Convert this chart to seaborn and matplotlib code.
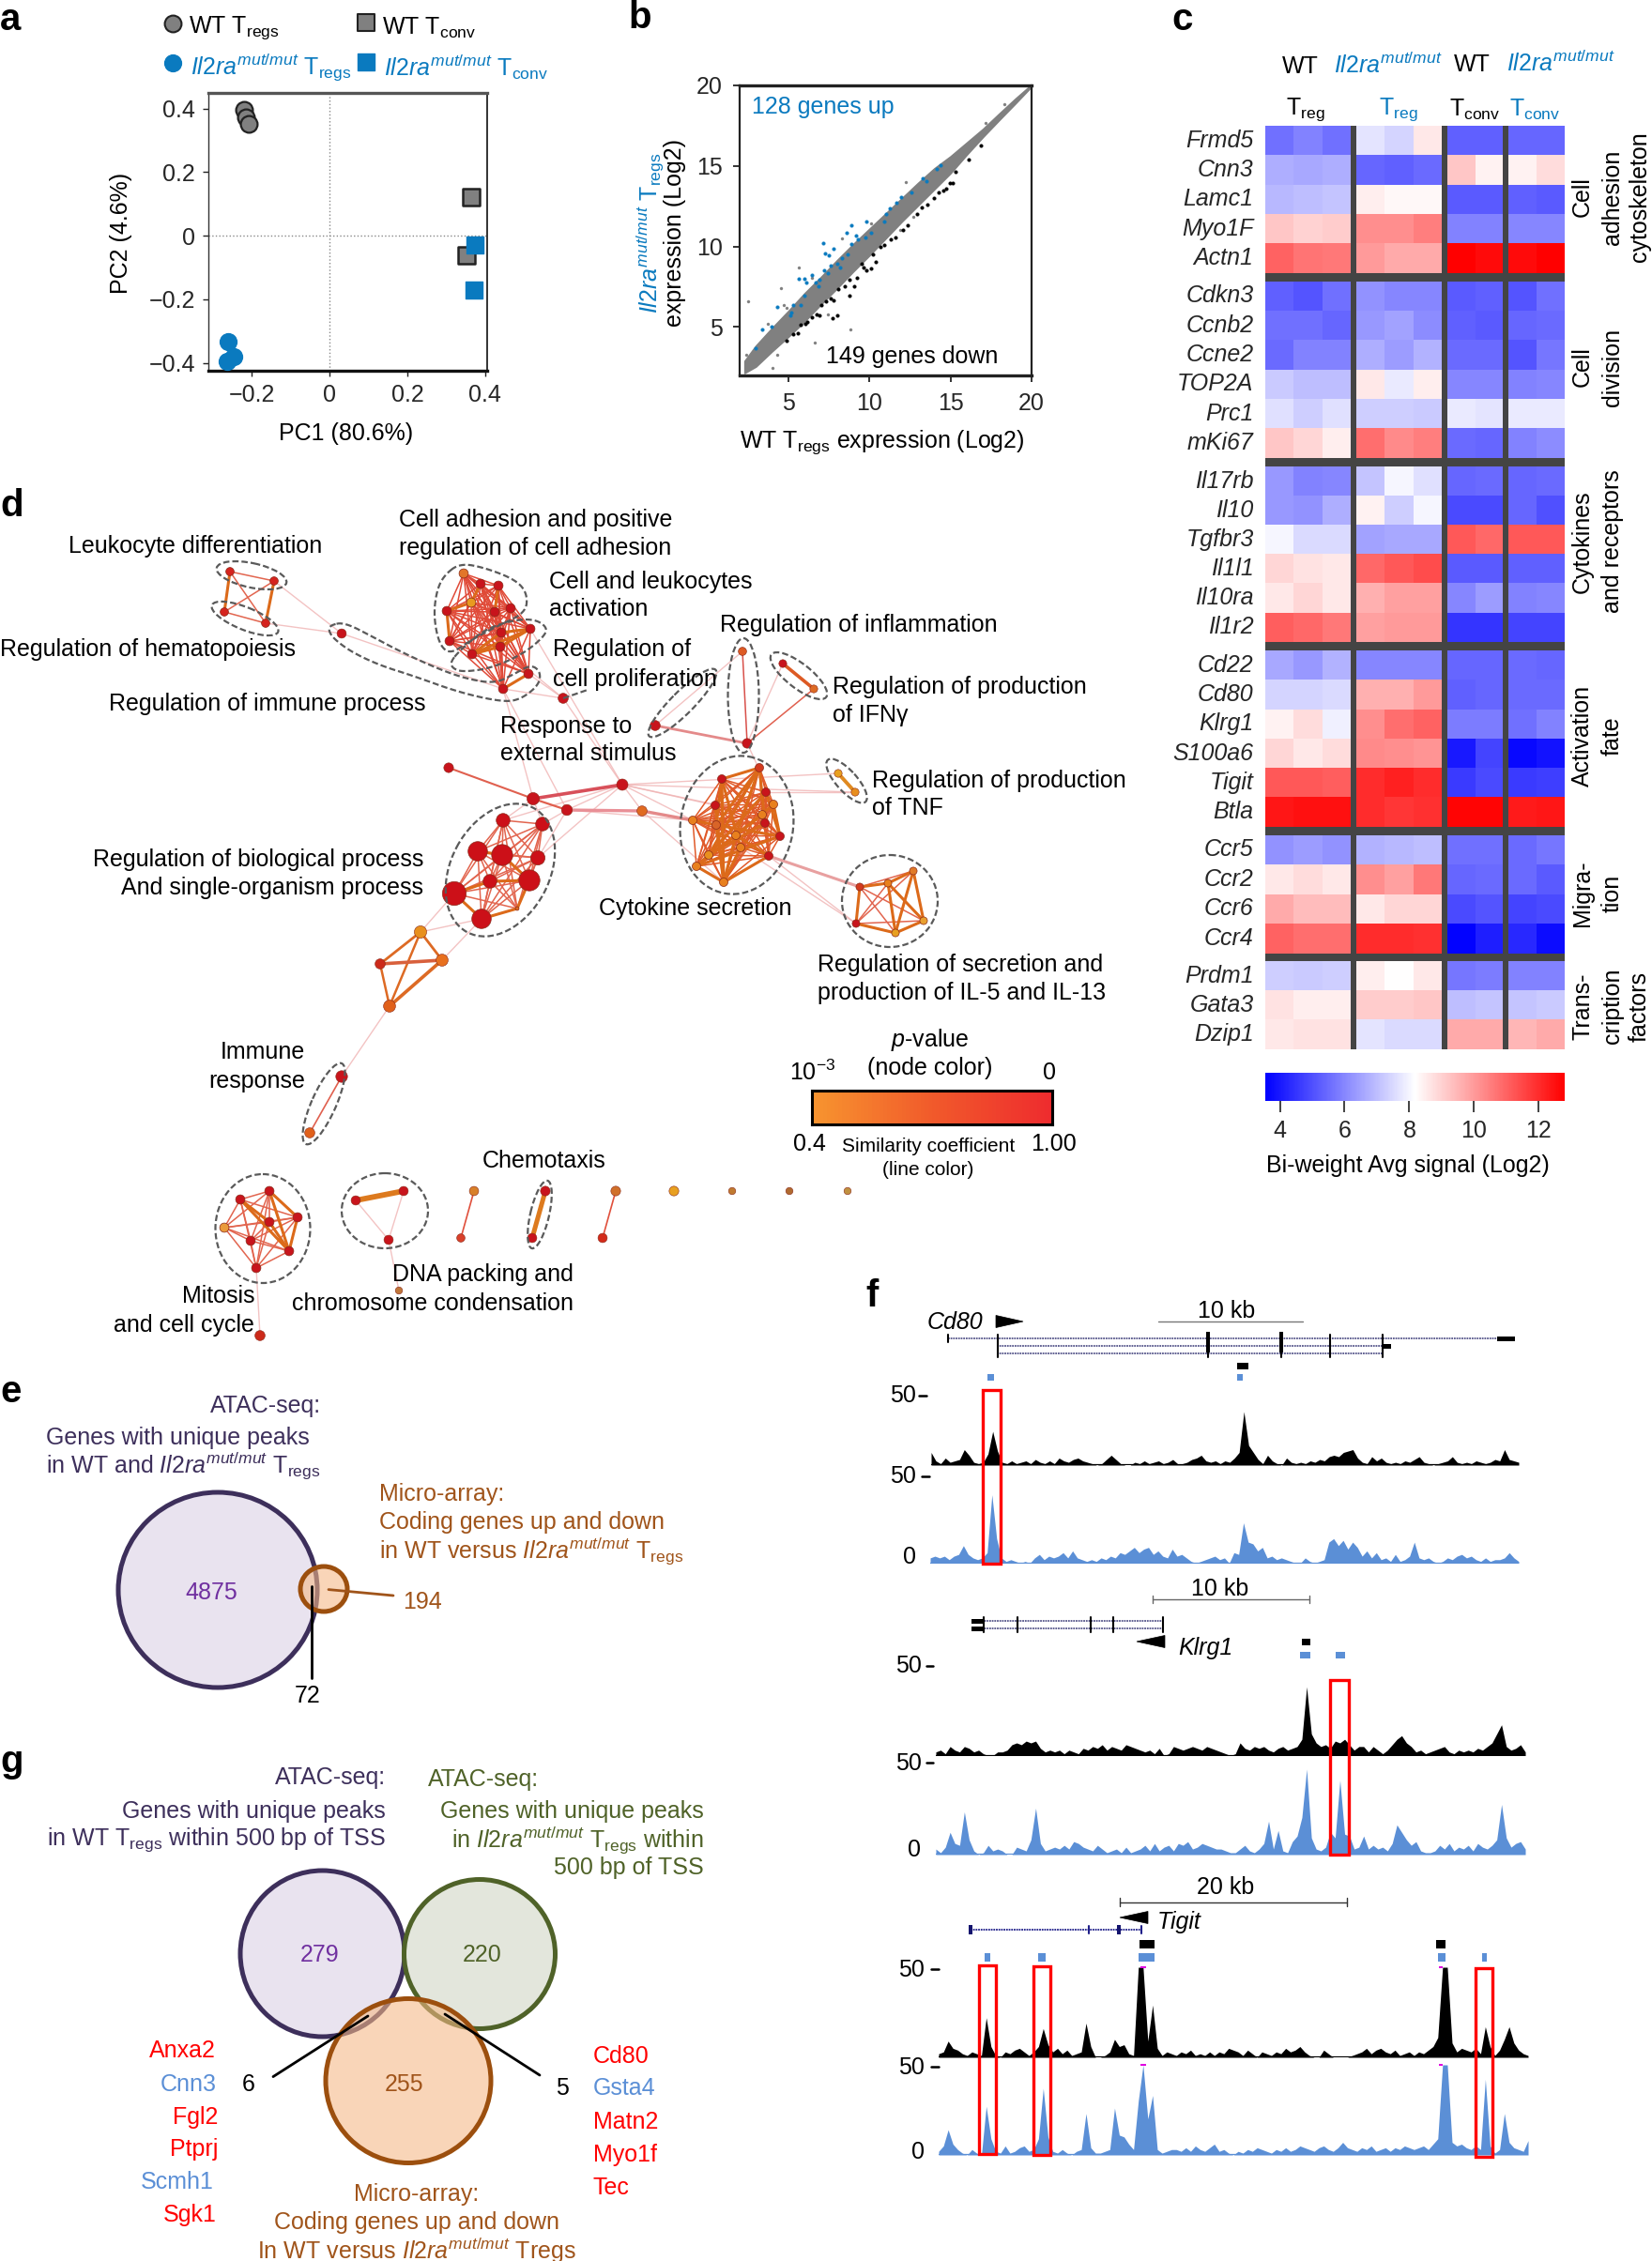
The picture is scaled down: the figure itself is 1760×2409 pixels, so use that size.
import itertools
import numpy as np
import pandas as pd
import seaborn as sns
import matplotlib
matplotlib.use("Agg")
import matplotlib.pyplot as plt
from matplotlib.patches import Ellipse, Rectangle, Polygon
from matplotlib.colors import LinearSegmentedColormap, Normalize
from matplotlib.cm import ScalarMappable

sns.set_theme(style="white")
plt.rcParams['font.family'] = ['Liberation Sans', 'DejaVu Sans']
plt.rcParams['mathtext.fontset'] = 'custom'
plt.rcParams['mathtext.rm'] = 'Liberation Sans'
plt.rcParams['mathtext.it'] = 'Liberation Sans:italic'
plt.rcParams['mathtext.bf'] = 'Liberation Sans:bold'
plt.rcParams['mathtext.default'] = 'regular'

W, H = 1760, 2409
FS = 18
BLUE = '#0a7abf'
PURPLE = '#3d2f5b'
BROWN = '#a0541a'
GREEN = '#4f6228'
TRACK_BLUE = '#5b8fd6'
MUT = r'\mathit{Il2ra}^{\mathit{mut/mut}}'

# ---------- panel a
pca_wt_treg_x = [-0.219, -0.215, -0.208]
pca_wt_treg_y = [0.396, 0.372, 0.353]
pca_mut_treg_x = [-0.260, -0.245, -0.263]
pca_mut_treg_y = [-0.334, -0.380, -0.395]
pca_wt_tconv_x = [0.364, 0.352]
pca_wt_tconv_y = [0.120, -0.062]
pca_mut_tconv_x = [0.373, 0.371]
pca_mut_tconv_y = [-0.030, -0.171]

# ---------- panel b
band_x = [2.3, 3, 4, 5, 6, 7, 8, 9, 10, 11, 12, 13, 14, 15, 16, 17, 18, 19, 19.9]
band_high = [2.9, 3.85, 4.95, 6.0, 7.1, 8.1, 9.15, 10.15, 11.1, 12.05, 13.0, 13.95, 14.85, 15.6, 16.45, 17.3, 18.25, 19.18, 19.97]
band_low = [2.15, 2.55, 3.5, 4.4, 5.35, 6.4, 7.4, 8.45, 9.45, 10.5, 11.55, 12.55, 13.55, 14.55, 15.7, 16.8, 17.85, 18.88, 19.83]
up_x = [3.37, 3.95, 4.30, 5.20, 5.30, 5.78, 5.98, 5.65, 5.98, 6.46, 6.11, 6.69, 6.94, 7.23, 7.62, 8.00, 8.29, 7.29, 7.52, 7.81, 7.17, 8.87, 9.16, 9.32, 9.78, 10.13, 8.58, 8.87, 9.80, 10.90, 11.00, 11.25, 11.67, 11.96, 12.58, 13.31, 13.51, 14.18, 14.41, 2.98, 5.11, 6.85, 7.42, 8.20, 8.68]
up_y = [4.83, 5.03, 6.23, 5.90, 6.39, 6.39, 6.97, 8.00, 8.00, 8.23, 7.75, 7.75, 7.94, 8.52, 8.82, 8.91, 9.30, 9.59, 9.46, 9.88, 10.21, 10.17, 10.66, 10.47, 10.56, 10.85, 10.85, 11.34, 11.53, 11.53, 12.02, 12.35, 12.70, 13.09, 13.34, 14.25, 14.06, 14.83, 15.03, 3.67, 5.71, 7.55, 8.33, 8.72, 9.50]
down_x = [4.92, 5.30, 5.59, 5.78, 6.17, 6.46, 6.75, 6.94, 7.04, 7.33, 7.62, 7.81, 8.10, 8.49, 8.78, 9.07, 9.26, 8.00, 7.71, 8.78, 9.84, 10.13, 10.42, 10.22, 9.55, 9.64, 10.71, 10.90, 11.29, 11.58, 12.06, 12.35, 12.93, 13.22, 13.60, 13.99, 14.28, 14.57, 14.76, 14.95, 15.15, 15.34, 16.11, 16.88, 6.07]
down_y = [4.16, 4.54, 4.64, 5.13, 5.32, 5.61, 5.80, 5.71, 6.39, 6.58, 6.78, 6.68, 7.36, 7.55, 7.94, 7.55, 8.04, 5.71, 5.57, 6.97, 8.52, 8.62, 9.07, 9.50, 8.91, 8.72, 9.98, 10.08, 10.47, 10.56, 11.05, 11.34, 12.02, 12.41, 12.60, 12.99, 13.38, 13.48, 13.57, 13.96, 13.96, 14.64, 15.42, 16.29, 5.22]
other_x = [2.50, 4.57, 5.63, 8.81, 4.05, 2.41, 8.29, 3.76, 4.72, 6.65, 12.25, 17.17, 18.33, 15.73, 10.13, 12.73, 11.87, 7.42, 4.34, 6.46, 4.92]
other_y = [6.62, 7.40, 8.68, 4.84, 2.47, 3.28, 10.52, 5.22, 6.39, 4.06, 14.00, 17.69, 18.82, 16.10, 11.44, 11.82, 11.05, 5.81, 3.28, 8.04, 6.19]

# ---------- panel c
gene_blocks = [
    ['Frmd5', 'Cnn3', 'Lamc1', 'Myo1F', 'Actn1'],
    ['Cdkn3', 'Ccnb2', 'Ccne2', 'TOP2A', 'Prc1', 'mKi67'],
    ['Il17rb', 'Il10', 'Tgfbr3', 'Il1l1', 'Il10ra', 'Il1r2'],
    ['Cd22', 'Cd80', 'Klrg1', 'S100a6', 'Tigit', 'Btla'],
    ['Ccr5', 'Ccr2', 'Ccr6', 'Ccr4'],
    ['Prdm1', 'Gata3', 'Dzip1'],
]
expression = [
    [5.6, 5.9, 5.6, 7.7, 7.4, 8.6, 5.3, 5.3, 5.4, 5.4],
    [6.7, 6.6, 6.7, 5.4, 5.3, 5.5, 9.2, 8.4, 8.4, 8.8],
    [6.9, 7.0, 7.1, 8.5, 8.3, 8.3, 5.2, 5.2, 5.3, 5.2],
    [9.2, 9.0, 9.1, 10.2, 10.2, 10.5, 5.9, 5.9, 6.0, 6.0],
    [11.0, 10.7, 10.6, 10.0, 9.7, 9.7, 12.8, 12.6, 12.6, 12.8],
    [5.3, 5.1, 5.6, 6.2, 6.0, 6.0, 5.2, 5.3, 5.1, 5.6],
    [5.6, 5.6, 5.4, 6.3, 6.5, 6.1, 5.3, 5.2, 5.4, 5.5],
    [5.5, 5.9, 5.9, 6.7, 6.4, 6.8, 5.5, 5.5, 5.1, 5.7],
    [7.2, 7.0, 7.0, 8.6, 7.8, 8.5, 6.0, 6.0, 5.9, 6.0],
    [7.6, 7.3, 7.6, 7.3, 7.3, 7.2, 7.8, 7.7, 7.8, 7.8],
    [9.2, 8.9, 8.5, 10.8, 10.3, 10.5, 5.5, 5.4, 5.9, 6.1],
    [6.3, 5.9, 6.0, 7.1, 8.0, 7.6, 5.4, 5.5, 5.4, 5.5],
    [6.3, 6.2, 6.7, 8.4, 7.3, 8.0, 4.9, 4.9, 5.4, 5.0],
    [8.0, 7.5, 7.5, 6.5, 6.6, 6.6, 11.2, 10.9, 11.2, 11.2],
    [8.9, 8.7, 8.6, 10.9, 11.2, 11.4, 5.2, 5.2, 5.3, 5.3],
    [8.6, 8.9, 8.6, 9.6, 9.9, 9.9, 6.0, 6.4, 5.9, 6.0],
    [11.1, 10.9, 10.6, 9.9, 10.0, 10.0, 4.5, 4.5, 4.8, 4.8],
    [6.6, 6.3, 6.8, 6.0, 6.0, 6.0, 5.4, 5.4, 5.5, 5.4],
    [7.4, 7.4, 7.5, 9.6, 9.6, 10.0, 5.3, 5.4, 5.5, 5.5],
    [8.4, 8.8, 7.9, 10.2, 10.8, 11.0, 5.8, 5.8, 5.6, 5.9],
    [8.9, 8.6, 8.8, 10.3, 10.2, 10.1, 4.0, 4.8, 3.7, 3.9],
    [11.2, 11.2, 11.1, 12.0, 12.2, 12.0, 4.6, 4.9, 4.6, 4.7],
    [12.4, 12.5, 12.5, 12.0, 11.8, 11.9, 12.7, 12.7, 12.3, 12.4],
    [6.2, 6.4, 6.2, 6.8, 6.9, 7.0, 5.6, 5.6, 5.5, 5.7],
    [8.6, 8.8, 8.6, 10.2, 9.9, 10.6, 5.4, 5.5, 5.5, 5.2],
    [9.7, 9.4, 9.4, 8.6, 8.9, 8.9, 4.9, 5.1, 4.8, 4.9],
    [11.0, 10.8, 10.8, 12.0, 12.0, 11.9, 3.6, 4.1, 4.3, 3.8],
    [7.3, 7.2, 7.3, 8.5, 8.2, 8.6, 5.7, 5.8, 5.9, 5.9],
    [8.7, 8.5, 8.5, 9.1, 9.1, 9.2, 7.0, 7.1, 7.1, 7.2],
    [8.6, 8.7, 8.7, 7.7, 7.5, 7.5, 9.7, 9.7, 9.5, 9.7],
]
col_groups = [(0, 3), (3, 6), (6, 8), (8, 10)]
cbar_ticks = [4, 6, 8, 10, 12]

# ---------- panel d network: clusters of nodes (x, y on the panel's own scale)
clusters = {
    'leuk': dict(x=[245, 292, 239, 283], y=[609, 619, 652, 664], thick=[(0, 2), (1, 3)]),
    'adhesion': dict(x=[494, 512, 531, 502, 476, 527, 544, 565, 534, 479, 503, 533, 563, 536],
                     y=[611, 622, 624, 642, 651, 652, 648, 670, 674, 683, 697, 689, 718, 734],
                     thick=[(4, 9), (10, 7), (10, 8), (10, 11), (11, 7), (8, 7), (3, 4), (2, 5), (1, 3), (12, 13)]),
    'cytokine': dict(x=[809, 769, 816, 824, 762, 812, 815, 738, 763, 831, 784, 789, 819, 755, 742, 771],
                     y=[818, 830, 844, 857, 858, 868, 877, 874, 879, 891, 890, 903, 912, 911, 923, 940],
                     thick=[(0, 1), (0, 8), (0, 10), (0, 13), (1, 8), (1, 11), (1, 15), (4, 15), (8, 15), (10, 15), (11, 15),
                            (13, 14), (14, 15), (12, 15), (2, 9), (3, 9), (8, 9), (10, 12), (7, 8), (5, 14), (6, 13), (2, 13), (0, 6), (3, 10), (9, 14)]),
    'il5': dict(x=[916, 946, 973, 912, 984, 954], y=[945, 941, 928, 984, 981, 994],
                thick=[(0, 3), (1, 2), (2, 4), (1, 4), (1, 5), (2, 5), (4, 5), (3, 5), (0, 1)]),
    'bio': dict(x=[536, 578, 509, 535, 573, 522, 564, 484, 551, 513],
                y=[874, 878, 907, 911, 914, 939, 938, 952, 968, 979],
                thick=[(2, 3), (3, 6), (6, 8), (7, 9), (7, 5), (8, 9), (5, 6)]),
    'mitosis': dict(x=[287, 256, 317, 287, 239, 267, 308, 273], y=[1269, 1278, 1297, 1302, 1308, 1322, 1333, 1351],
                    thick=[(0, 2), (1, 6), (0, 6), (2, 6), (1, 3), (3, 6)]),
}
cluster_node_color = {
    'leuk': ['#d5231e'] * 4,
    'adhesion': ['#e2762a', '#c8141c', '#c8141c', '#e89a20', '#c8141c', '#c8141c', '#c8141c', '#c8141c', '#c8141c', '#c8141c', '#c8141c', '#c8141c', '#c8141c', '#c8141c'],
    'cytokine': ['#d33a1e', '#c8141c', '#c8141c', '#e8801e', '#c8141c', '#e8801e', '#c8141c', '#e8801e', '#d86428', '#c8141c', '#e8801e', '#e8801e', '#c8141c', '#e8901e', '#e8801e', '#e8801e'],
    'il5': ['#d33a1e', '#e8801e', '#e07a28', '#c8141c', '#e8a030', '#e8a020'],
    'bio': ['#cc1018'] * 8 + ['#e06a20', '#cc1018'],
    'mitosis': ['#c8141c', '#c8141c', '#c8141c', '#c8141c', '#ea9a3a', '#c8141c', '#c8141c', '#c8141c'],
}
cluster_node_size = {
    'leuk': 40, 'adhesion': 50, 'cytokine': 42, 'il5': 34, 'mitosis': 50,
    'bio': [110, 110, 220, 260, 120, 110, 260, 330, 8, 220],
}
link_strong = [  # red or orange links (x1, y1, x2, y2, colour, width)
    (478, 818, 568, 851, '#e0604f', 1.5), (568, 851, 663, 836, '#d8505a', 2.6), (568, 851, 604, 863, '#e0604f', 1.6),
    (604, 863, 684, 864, '#e98f96', 2.4), (791, 694, 796, 792, '#d8504a', 1.1), (867, 734, 796, 792, '#e0604f', 1.1),
    (698, 773, 796, 792, '#e48a8a', 2.0), (834, 707, 867, 734, '#dd5a24', 2.6), (893, 824, 911, 844, '#e08a20', 2.8),
    (364, 1147, 330, 1207, '#e0604f', 1.2), (379, 1279, 430, 1269, '#dd7a1e', 4.2), (505, 1269, 491, 1319, '#e0503c', 1.2),
    (581, 1269, 567, 1319, '#dd7a1e', 3.6), (656, 1269, 642, 1319, '#e0503c', 1.2), (448, 993, 405, 1027, '#dd6a24', 2.0),
    (448, 993, 471, 1023, '#dd6a24', 2.0), (448, 993, 415, 1072, '#dd6a24', 1.8), (405, 1027, 471, 1023, '#d8603c', 2.6),
    (405, 1027, 415, 1072, '#dd6a24', 1.8), (471, 1023, 415, 1072, '#dd6a24', 2.6), (684, 864, 738, 874, '#e48a8a', 2.4),
    (819, 912, 916, 945, '#e8a0a0', 2.2),
]
link_faint = [  # pale links between clusters
    (292, 619, 364, 675), (283, 664, 364, 675), (364, 675, 536, 734), (533, 689, 600, 744), (565, 670, 663, 836),
    (536, 734, 568, 851), (600, 744, 663, 836), (563, 718, 600, 744), (568, 851, 536, 874), (568, 851, 578, 878),
    (604, 863, 578, 878), (663, 836, 573, 914), (604, 863, 573, 914), (604, 863, 663, 836), (663, 836, 738, 874),
    (663, 836, 762, 858), (663, 836, 812, 868), (604, 863, 738, 874), (663, 836, 684, 864), (684, 864, 771, 940),
    (663, 836, 536, 874), (796, 792, 808, 818), (698, 773, 791, 694), (834, 707, 796, 792), (819, 912, 912, 984),
    (789, 903, 912, 984), (663, 836, 893, 824), (663, 836, 911, 844), (816, 844, 911, 844), (513, 979, 448, 993),
    (513, 979, 471, 1023), (484, 952, 448, 993), (415, 1072, 364, 1147), (273, 1351, 277, 1423), (414, 1321, 425, 1375),
    (379, 1279, 414, 1321), (430, 1269, 414, 1321), (536, 734, 600, 744), (604, 863, 536, 734),
]
free_x = [364, 600, 791, 834, 867, 698, 796, 478, 663, 568, 604, 684, 448, 405, 471, 415, 893, 911, 364, 330, 379, 430, 414, 505, 491, 581, 567, 656, 642, 718, 780, 841, 903, 425, 277]
free_y = [675, 744, 694, 707, 734, 773, 792, 818, 836, 851, 863, 864, 993, 1027, 1023, 1072, 824, 844, 1147, 1207, 1279, 1269, 1321, 1269, 1319, 1269, 1319, 1269, 1319, 1269, 1269, 1269, 1269, 1375, 1423]
free_s = [50, 60, 40, 36, 36, 60, 55, 55, 75, 90, 70, 60, 90, 60, 85, 85, 36, 36, 80, 60, 50, 50, 50, 50, 40, 55, 50, 55, 50, 55, 30, 30, 30, 30, 60]
free_c = ['#c8141c', '#c8141c', '#dd5a24', '#c8141c', '#dd6a24', '#c8141c', '#c8141c', '#c8141c', '#c8141c', '#c8141c', '#c8141c', '#e06a20',
          '#e8901e', '#cc2a1a', '#e8701e', '#e0601a', '#e8a020', '#e88e1e', '#c8141c', '#e0601a', '#c8141c', '#c8141c', '#c8141c',
          '#d8802a', '#d9402a', '#c8141c', '#c8141c', '#d0702a', '#d32a1a', '#e8a020', '#c07a30', '#b06a30', '#c09040', '#c0763a', '#cc2a1a']
dash_ellipses = [  # centre x, centre y, long side, short side, tilt
    (268, 613, 76, 26, 12), (261, 659, 76, 24, 22), (792, 741, 33, 122, 0), (727, 749, 100, 24, -45),
    (851, 720, 74, 26, 38), (785, 879, 120, 148, 10), (902, 832, 60, 22, 48), (533, 927, 150, 105, -62),
    (948, 960, 102, 98, 0), (345, 1176, 94, 26, -66), (280, 1309, 101, 116, 0), (410, 1290, 92, 80, 0), (575, 1294, 74, 20, -77),
]
dash_blobs = [
    [(473, 613), (490, 600), (517, 605), (550, 618), (562, 633), (560, 653), (530, 667), (500, 683), (480, 697), (468, 687), (462, 657), (465, 630)],
    [(480, 705), (490, 693), (513, 673), (540, 662), (568, 659), (583, 668), (580, 678), (557, 697), (523, 712), (493, 716), (482, 712)],
    [(352, 666), (367, 663), (398, 679), (428, 695), (470, 714), (500, 724), (528, 728), (548, 718), (566, 708), (576, 716), (574, 730), (555, 745),
     (536, 748), (490, 738), (440, 720), (405, 709), (375, 695), (356, 681), (350, 672)],
]
d_labels = [
    (425, 552, 'Cell adhesion and positive', 'left'), (425, 582, 'regulation of cell adhesion', 'left'),
    (73, 581, 'Leukocyte differentiation', 'left'), (585, 618, 'Cell and leukocytes', 'left'), (585, 648, 'activation', 'left'),
    (767, 665, 'Regulation of inflammation', 'left'), (0, 690, 'Regulation of hematopoiesis', 'left'),
    (589, 691, 'Regulation of', 'left'), (589, 722, 'cell proliferation', 'left'),
    (887, 731, 'Regulation of production', 'left'), (887, 761, 'of IFNγ', 'left'),
    (116, 748, 'Regulation of immune process', 'left'), (533, 772, 'Response to', 'left'), (533, 802, 'external stimulus', 'left'),
    (929, 831, 'Regulation of production', 'left'), (929, 860, 'of TNF', 'left'),
    (451, 915, 'Regulation of biological process', 'right'), (451, 945, 'And single-organism process', 'right'),
    (638, 966, 'Cytokine secretion', 'left'), (871, 1027, 'Regulation of secretion and', 'left'),
    (871, 1057, 'production of IL-5 and IL-13', 'left'), (325, 1120, 'Immune', 'right'), (325, 1151, 'response', 'right'),
    (580, 1235, 'Chemotaxis', 'center'), (271, 1380, 'Mitosis', 'right'), (271, 1411, 'and cell cycle', 'right'),
    (611, 1357, 'DNA packing and', 'right'), (611, 1387, 'chromosome condensation', 'right'),
]

# ---------- panel f tracks, one value per genome bin
cd80_black = [9, 3, 1, 5, 2, 3, 4, 11, 7, 2, 1, 2, 8, 24, 10, 2, 1, 3, 1, 2, 3, 1, 4, 2, 1,
              3, 1, 5, 3, 2, 4, 5, 3, 2, 1, 0, 1, 4, 7, 4, 1, 0, 0, 2, 1, 3, 1, 2, 3, 1,
              2, 4, 1, 1, 2, 4, 5, 7, 3, 2, 3, 1, 3, 2, 5, 9, 38, 14, 9, 4, 1, 7, 3, 1, 0,
              5, 2, 1, 2, 1, 3, 2, 4, 3, 6, 7, 6, 9, 10, 11, 5, 2, 1, 6, 3, 5, 2, 1, 2, 1,
              3, 2, 4, 6, 2, 1, 0, 1, 2, 3, 6, 2, 1, 2, 1, 3, 2, 1, 2, 4, 3, 11, 4, 3, 2]
cd80_blue = [3, 4, 3, 4, 2, 4, 5, 10, 5, 3, 2, 3, 6, 39, 14, 3, 1, 2, 1, 0, 1, 0, 3, 5, 2,
             4, 3, 4, 6, 3, 7, 3, 2, 1, 2, 1, 3, 2, 4, 3, 6, 5, 7, 9, 6, 8, 9, 5, 7, 4,
             3, 8, 4, 5, 3, 1, 0, 1, 2, 3, 4, 2, 3, 0, 6, 5, 23, 12, 11, 7, 9, 3, 4, 2, 3,
             2, 1, 0, 0, 3, 1, 0, 1, 2, 12, 14, 10, 13, 8, 12, 9, 4, 7, 3, 6, 2, 3, 1, 5, 1,
             2, 4, 12, 3, 2, 3, 1, 0, 1, 3, 2, 4, 5, 3, 4, 2, 1, 3, 1, 2, 2, 3, 6, 3, 1]
klrg1_black = [2, 3, 1, 5, 3, 2, 5, 4, 2, 3, 1, 0, 0, 2, 2, 3, 6, 7, 6, 8, 7, 8, 4, 2, 3,
               2, 3, 1, 3, 2, 1, 4, 3, 5, 4, 6, 3, 5, 4, 3, 6, 5, 4, 3, 2, 3, 1, 4, 0, 1,
               5, 4, 3, 4, 5, 4, 3, 5, 4, 3, 2, 1, 0, 1, 7, 4, 3, 5, 4, 5, 3, 2, 4, 5, 3,
               4, 5, 9, 38, 12, 7, 5, 6, 4, 8, 7, 9, 6, 3, 5, 5, 2, 5, 3, 1, 3, 6, 9, 11, 7,
               5, 2, 3, 1, 2, 3, 4, 5, 2, 1, 3, 2, 3, 2, 4, 3, 5, 7, 12, 17, 5, 3, 4, 6, 2]
klrg1_blue = [3, 1, 4, 12, 6, 5, 23, 8, 2, 0, 1, 5, 2, 3, 2, 0, 0, 4, 3, 2, 8, 25, 6, 2, 3,
              4, 3, 5, 3, 7, 6, 4, 3, 2, 5, 3, 1, 2, 3, 1, 4, 1, 2, 3, 5, 2, 6, 2, 4, 5,
              2, 6, 5, 7, 3, 4, 6, 5, 4, 3, 3, 2, 1, 1, 3, 5, 2, 1, 3, 6, 18, 3, 13, 2, 1,
              7, 10, 20, 46, 9, 3, 2, 4, 12, 9, 40, 11, 10, 3, 4, 10, 3, 5, 3, 4, 2, 6, 16, 12, 8,
              5, 7, 2, 1, 1, 2, 5, 3, 6, 2, 4, 3, 5, 2, 6, 4, 3, 5, 8, 27, 9, 4, 6, 7, 3]
tigit_black = [2, 3, 9, 5, 4, 2, 1, 3, 2, 1, 22, 6, 1, 0, 3, 2, 4, 5, 3, 1, 3, 6, 16, 7, 3,
               5, 2, 4, 1, 2, 3, 19, 6, 0, 0, 1, 3, 10, 6, 7, 2, 1, 50, 50, 9, 29, 5, 1, 3, 2,
               1, 3, 2, 4, 1, 2, 1, 3, 1, 3, 2, 5, 4, 3, 1, 4, 2, 0, 3, 2, 1, 3, 2, 5, 3,
               4, 6, 3, 1, 0, 0, 4, 2, 0, 0, 0, 0, 1, 2, 3, 5, 2, 4, 5, 3, 2, 4, 1, 2, 3,
               1, 3, 2, 4, 6, 11, 50, 50, 8, 3, 5, 4, 3, 5, 2, 17, 6, 1, 4, 10, 17, 8, 4, 2, 1]
tigit_blue = [2, 5, 14, 6, 3, 1, 0, 3, 1, 0, 27, 9, 2, 1, 5, 1, 2, 4, 5, 2, 3, 9, 37, 10, 2,
              1, 3, 1, 0, 2, 3, 23, 4, 1, 1, 2, 3, 26, 11, 10, 6, 3, 30, 50, 20, 33, 3, 1, 2, 3,
              3, 2, 4, 2, 5, 3, 2, 4, 6, 2, 3, 1, 0, 2, 1, 3, 2, 4, 3, 2, 1, 3, 2, 4, 2,
              3, 5, 4, 3, 2, 4, 5, 3, 2, 4, 7, 4, 3, 2, 4, 3, 5, 2, 3, 4, 2, 4, 3, 5, 4,
              3, 4, 5, 3, 6, 9, 50, 50, 7, 5, 6, 4, 3, 5, 3, 42, 5, 1, 3, 23, 7, 4, 3, 2, 8]

fig = plt.figure(figsize=(W / 100, H / 100), dpi=100, facecolor='white')


def px_axes(l, t, r, b, **kw):
    return fig.add_axes([l / W, 1 - b / H, (r - l) / W, (b - t) / H], **kw)


canvas = fig.add_axes([0, 0, 1, 1], zorder=5)
canvas.set_xlim(0, W)
canvas.set_ylim(H, 0)
canvas.axis('off')


def txt(x, y, s, ha='left', color='black', size=FS, rotation=0, **kw):
    dy = 0 if rotation else 1.5
    canvas.text(x, y + dy, s, ha=ha, va='center', color=color, fontsize=size, rotation=rotation, **kw)


for (lx, ly, let) in [(0, 19, 'a'), (669, 18, 'b'), (1248, 19, 'c'), (0, 537, 'd'), (0, 1481, 'e'), (922, 1379, 'f'), (0, 1875, 'g')]:
    txt(lx, ly, let, size=29, fontweight='bold')

# ---------- a
ax = px_axes(222, 99, 519, 395)
common = dict(ax=ax, legend=False, zorder=3)
sns.scatterplot(x=pca_wt_treg_x, y=pca_wt_treg_y, s=165, color='#808080', edgecolor='#222222', linewidth=1.6, marker='o', **common)
sns.scatterplot(x=pca_mut_treg_x, y=pca_mut_treg_y, s=165, color=BLUE, edgecolor=BLUE, marker='o', **common)
sns.scatterplot(x=pca_wt_tconv_x, y=pca_wt_tconv_y, s=165, color='#808080', edgecolor='#222222', linewidth=1.8, marker='s', **common)
sns.scatterplot(x=pca_mut_tconv_x, y=pca_mut_tconv_y, s=165, color=BLUE, edgecolor=BLUE, marker='s', **common)
ax.axhline(0, color='#888888', lw=1, ls=':')
ax.axvline(0, color='#888888', lw=1, ls=':')
ax.set_xlim(-0.311, 0.405)
ax.set_ylim(-0.425, 0.449)
ax.set_xticks([-0.2, 0, 0.2, 0.4], ['−0.2', '0', '0.2', '0.4'])
ax.set_yticks([-0.4, -0.2, 0, 0.2, 0.4], ['−0.4', '−0.2', '0', '0.2', '0.4'])
ax.tick_params(length=4, width=1, labelsize=FS, color='#222222', pad=6, bottom=True, left=True)
for s, lw, c in [('top', 2.4, '#555555'), ('bottom', 2.4, '#111111'), ('left', 1, '#333333'), ('right', 1.4, '#333333')]:
    ax.spines[s].set_linewidth(lw)
    ax.spines[s].set_color(c)
    ax.spines[s].set_visible(True)
txt(369, 460, 'PC1 (80.6%)', ha='center')
txt(129, 248, 'PC2 (4.6%)', ha='center', rotation=90)
canvas.scatter([184], [25], s=165, c='#808080', edgecolors='#222222', linewidths=1.5)
canvas.scatter([184], [67], s=165, c=BLUE, edgecolors=BLUE)
canvas.scatter([390], [24], s=165, c='#808080', marker='s', edgecolors='#222222', linewidths=1.5)
canvas.scatter([390], [66], s=165, c=BLUE, marker='s', edgecolors=BLUE)
txt(201, 28, r'WT T$_{\mathrm{regs}}$')
txt(407, 28, r'WT T$_{\mathrm{conv}}$')
txt(203, 70, '$' + MUT + r'\ \mathrm{T}_{\mathrm{regs}}$', color=BLUE)
txt(409, 70, '$' + MUT + r'\ \mathrm{T}_{\mathrm{conv}}$', color=BLUE)

# ---------- b
ax = px_axes(788, 91, 1099, 400)
ax.fill_between(band_x, band_low, band_high, color='#808080', lw=1.2, zorder=2)
sns.scatterplot(x=up_x, y=up_y, s=7, color=BLUE, edgecolor=BLUE, ax=ax, legend=False, zorder=3)
sns.scatterplot(x=down_x, y=down_y, s=7, color='black', edgecolor='black', ax=ax, legend=False, zorder=3)
sns.scatterplot(x=other_x, y=other_y, s=5, color='#808080', edgecolor='#808080', ax=ax, legend=False, zorder=1)
ax.set_xlim(2, 20)
ax.set_ylim(2, 20)
ax.set_xticks([5, 10, 15, 20])
ax.set_yticks([5, 10, 15, 20])
ax.tick_params(length=5, width=1.2, labelsize=FS, color='#111111', pad=8, bottom=True, left=True)
for s in ax.spines.values():
    s.set_visible(True)
    s.set_linewidth(1.6)
    s.set_color('#222222')
ax.spines['top'].set_linewidth(2.4)
ax.spines['bottom'].set_linewidth(2.4)
txt(801, 112, '128 genes up', color=BLUE)
txt(880, 378, '149 genes down')
txt(940, 470, r'WT T$_{\mathrm{regs}}$ expression (Log2)', ha='center')
txt(719, 248, 'expression (Log2)', ha='center', rotation=90)
txt(692, 248, '$' + MUT + r'\ \mathrm{T}_{\mathrm{regs}}$', ha='center', rotation=90, color=BLUE)

# ---------- c
bg = px_axes(1348, 134, 1667, 1117.5, facecolor='#444444')
bg.set_xticks([])
bg.set_yticks([])
for s in bg.spines.values():
    s.set_visible(False)
col_px = [(1348, 1439), (1445, 1536), (1542, 1601), (1607, 1667)]
row_px = [(134, 290.5), (299.8, 487.5), (497, 683.7), (693, 880.8), (889.7, 1015.5), (1024.3, 1117.5)]
VMIN, VMAX = 3.55, 12.8
frame = pd.DataFrame(expression, index=[g for b in gene_blocks for g in b])
start = 0
for block, (top, bottom) in zip(gene_blocks, row_px):
    sub = frame.iloc[start:start + len(block)]
    start += len(block)
    for j, ((c0, c1), (left, right)) in enumerate(zip(col_groups, col_px)):
        hax = px_axes(left, top, right, bottom)
        sns.heatmap(sub.iloc[:, c0:c1], ax=hax, cmap='bwr', vmin=VMIN, vmax=VMAX, cbar=False,
                    xticklabels=False, yticklabels=(j == 0))
        hax.set_xlabel('')
        hax.set_ylabel('')
        if j == 0:
            hax.tick_params(axis='y', length=0, pad=9, labelsize=FS, rotation=0, left=False)
            for lab in hax.get_yticklabels():
                lab.set_fontstyle('italic')
cax = px_axes(1348, 1143, 1667, 1173)
cb = fig.colorbar(ScalarMappable(Normalize(VMIN, VMAX), 'bwr'), cax=cax, orientation='horizontal', ticks=cbar_ticks)
cb.outline.set_visible(False)
cax.tick_params(length=8.5, width=1.2, labelsize=FS, pad=6, bottom=True, color='#222222')
txt(1500, 1241, 'Bi-weight Avg signal (Log2)', ha='center')
txt(1385, 70, 'WT', ha='center')
txt(1568, 68, 'WT', ha='center')
txt(1479, 68, '$' + MUT + '$', ha='center', color=BLUE)
txt(1663, 66, '$' + MUT + '$', ha='center', color=BLUE)
txt(1391, 115, r'T$_{\mathrm{reg}}$', ha='center')
txt(1490, 115, r'T$_{\mathrm{reg}}$', ha='center', color=BLUE)
txt(1571, 115, r'T$_{\mathrm{conv}}$', ha='center')
txt(1635, 115, r'T$_{\mathrm{conv}}$', ha='center', color=BLUE)
side = [(1686, 210, 'Cell'), (1718, 210, 'adhesion'), (1747, 210, 'cytoskeleton'), (1686, 391, 'Cell'), (1718, 391, 'division'),
        (1686, 577, 'Cytokines'), (1718, 577, 'and receptors'), (1686, 784, 'Activation'), (1718, 784, 'fate'),
        (1686, 952, 'Migra-'), (1718, 952, 'tion'), (1686, 1072, 'Trans-'), (1718, 1072, 'cription'), (1747, 1072, 'factors')]
for sx, sy, s in side:
    txt(sx, sy, s, ha='center', rotation=90)

# ---------- d
for x1, y1, x2, y2 in link_faint:
    canvas.plot([x1, x2], [y1, y2], color='#f0b4b4', lw=1.0, alpha=0.8, zorder=1)
for x1, y1, x2, y2, col, lw in link_strong:
    canvas.plot([x1, x2], [y1, y2], color=col, lw=lw, solid_capstyle='round', zorder=2)
for name, cl in clusters.items():
    pts = list(zip(cl['x'], cl['y']))
    thin = {'cytokine': '#e05a2a', 'adhesion': '#e04a38'}.get(name, '#e2654f')
    for a_, b_ in itertools.combinations(pts, 2):
        canvas.plot(*zip(a_, b_), color=thin, lw=1.1, zorder=2)
    for i, j in cl['thick']:
        canvas.plot(*zip(pts[i], pts[j]), color='#dc6a1a', lw=2.2, zorder=3, solid_capstyle='round')
    canvas.scatter(cl['x'], cl['y'], s=cluster_node_size[name], c=cluster_node_color[name], edgecolors='#8a2a1a', linewidths=0.5, zorder=4)
canvas.scatter(free_x, free_y, s=free_s, c=free_c, edgecolors='#8a2a1a', linewidths=0.4, zorder=4)
DASH = dict(fill=False, ec='#5a5a5a', lw=1.6, ls=(0, (3, 1.4)), zorder=5)
for cx, cy, w_, h_, ang in dash_ellipses:
    canvas.add_patch(Ellipse((cx, cy), w_, h_, angle=ang, **DASH))


def rounded(points, rounds=3):
    p = np.array(points, float)
    for _ in range(rounds):
        q = np.roll(p, -1, axis=0)
        p = np.column_stack([0.75 * p + 0.25 * q, 0.25 * p + 0.75 * q]).reshape(-1, 2)
    return p


for blob in dash_blobs:
    canvas.add_patch(Polygon(rounded(blob), closed=True, **DASH))
canvas.plot([600, 626], [744, 735], color='#5a5a5a', lw=1.6, ls=(0, (3, 1.4)), zorder=5)
for lx, ly, s, ha in d_labels:
    txt(lx, ly, s, ha=ha, zorder=6)
txt(991, 1107, r'$\mathit{p}$-value', ha='center')
txt(991, 1136, '(node color)', ha='center')
txt(866, 1141, r'10$^{-3}$', ha='center')
txt(1118, 1142, '0', ha='center')
grad = px_axes(865, 1162, 1121, 1198)
sns.heatmap(np.linspace(0, 1, 64).reshape(1, -1), ax=grad, cbar=False, xticklabels=False, yticklabels=False,
            cmap=LinearSegmentedColormap.from_list('pv', ['#f7942f', '#f15a2b', '#ee2c2e']))
for s in grad.spines.values():
    s.set_visible(True)
    s.set_linewidth(2.2)
    s.set_color('black')
txt(862, 1218, '0.4', ha='center')
txt(1122, 1218, '1.00', ha='center')
txt(989, 1220, 'Similarity coefficient', ha='center', size=15)
txt(989, 1245, '(line color)', ha='center', size=15)

# ---------- e
ORANGE_FILL = (0.96, 0.72, 0.52, 0.58)
canvas.add_patch(Ellipse((232, 1694), 212, 208, fc='#e9e3ef', ec=PURPLE, lw=3.6, zorder=1))
canvas.add_patch(Ellipse((345, 1693), 50, 48, fc=ORANGE_FILL, ec='#9c4f0e', lw=3.6, zorder=2))
txt(225, 1695, '4875', ha='center', color='#7030a0')
txt(342, 1496, 'ATAC-seq:', ha='right', color=PURPLE)
txt(49, 1530, 'Genes with unique peaks', color=PURPLE)
txt(49, 1560, r'in WT and $' + MUT + r'\ \mathrm{T}_{\mathrm{regs}}$', color=PURPLE)
txt(404, 1591, 'Micro-array:', color=BROWN)
txt(404, 1621, 'Coding genes up and down', color=BROWN)
txt(404, 1651, r'in WT versus $' + MUT + r'\ \mathrm{T}_{\mathrm{regs}}$', color=BROWN)
canvas.plot([350, 419], [1693.6, 1700], color=BROWN, lw=2, zorder=3)
txt(429, 1705, '194', color=BROWN)
canvas.plot([331.5, 331.5], [1690, 1788], color='black', lw=2, zorder=3)
txt(328, 1806, '72', ha='center')

# ---------- g
canvas.add_patch(Ellipse((343.5, 2081.5), 175, 177, fc='#e9e3ef', ec=PURPLE, lw=3.6, zorder=1))
canvas.add_patch(Ellipse((511, 2082), 161, 159, fc='#e3e6dc', ec=GREEN, lw=3.6, zorder=1))
canvas.add_patch(Ellipse((435, 2217), 176, 175, fc=ORANGE_FILL, ec='#9c4f0e', lw=3.6, zorder=2))
txt(341, 2082, '279', ha='center', color='#7030a0')
txt(514, 2082, '220', ha='center', color=GREEN)
txt(431, 2219, '255', ha='center', color=BROWN)
txt(411, 1892, 'ATAC-seq:', ha='right', color=PURPLE)
txt(411, 1929, 'Genes with unique peaks', ha='right', color=PURPLE)
txt(411, 1959, r'in WT T$_{\mathrm{regs}}$ within 500 bp of TSS', ha='right', color=PURPLE)
txt(456, 1894, 'ATAC-seq:', color=GREEN)
txt(750, 1929, 'Genes with unique peaks', ha='right', color=GREEN)
txt(750, 1959, r'in $' + MUT + r'\ \mathrm{T}_{\mathrm{regs}}$ within', ha='right', color=GREEN)
txt(750, 1989, '500 bp of TSS', ha='right', color=GREEN)
canvas.plot([392, 291], [2148, 2212.6], color='black', lw=2, zorder=3)
canvas.plot([474, 575], [2146, 2211], color='black', lw=2, zorder=3)
txt(265, 2219, '6', ha='center')
txt(599, 2223, '5', ha='center')
left_genes = [(159, 2184, 'Anxa2', 'red'), (171, 2219, 'Cnn3', TRACK_BLUE), (184, 2254, 'Fgl2', 'red'), (181, 2288, 'Ptprj', 'red'),
              (150, 2323, 'Scmh1', TRACK_BLUE), (174, 2358, 'Sgk1', 'red')]
for lx, ly, s, c in left_genes:
    txt(lx, ly, s, color=c)
right_genes = [(2190, 'Cd80', 'red'), (2224, 'Gsta4', TRACK_BLUE), (2259, 'Matn2', 'red'), (2294, 'Myo1f', 'red'), (2329, 'Tec', 'red')]
for ly, s, c in right_genes:
    txt(632, ly, s, color=c)
txt(444, 2336, 'Micro-array:', ha='center', color=BROWN)
txt(444, 2366, 'Coding genes up and down', ha='center', color=BROWN)
txt(444, 2396, r'In WT versus $' + MUT + r'\ \mathrm{Tregs}$', ha='center', color=BROWN)


# ---------- f
def track(l, r, top, base, values, color):
    t = px_axes(l, top, r, base)
    x = np.linspace(0, 1, len(values))
    t.fill_between(x, 0, values, color=color, lw=0)
    t.axhline(0, color=color, lw=1.6)
    t.set_xlim(0, 1)
    t.set_ylim(0, 50)
    t.axis('off')


track(992, 1618, 1486, 1561, cd80_black, 'black')
track(991, 1618, 1572, 1665.5, cd80_blue, TRACK_BLUE)
track(997, 1625, 1774, 1870.5, klrg1_black, 'black')
track(997, 1625, 1877, 1976, klrg1_blue, TRACK_BLUE)
track(1000, 1628, 2096, 2192, tigit_black, 'black')
track(1000, 1628, 2200, 2296, tigit_blue, TRACK_BLUE)


def box(x0, x1, yc, h, c):
    canvas.add_patch(Rectangle((x0, yc - h / 2), x1 - x0, h, fc=c, ec='none', zorder=4))


def red(x0, x1, y0, y1):
    canvas.add_patch(Rectangle((x0, y0), x1 - x0, y1 - y0, fill=False, ec='#ff0000', lw=2.4, zorder=6))


def tick50(xr, x0, x1, y, s='50'):
    txt(xr, y, s, ha='right')
    if s != '0':
        canvas.plot([x0, x1], [y + 1, y + 1], color='black', lw=1.8)


def arrow(x_tip, x_base, y):
    canvas.add_patch(Polygon([(x_base, y - 6.5), (x_base, y + 6.5), (x_tip, y)], fc='black', ec='black', lw=0.5))


def gene(x0, x1, y, ticks, color='#55558a', tick_c='black'):
    canvas.plot([x0, x1], [y, y], color=color, lw=1.3, ls=(0, (1, 0.5)))
    for tx in ticks:
        canvas.plot([tx, tx], [y - 4, y + 4], color=tick_c, lw=1.5)


# Cd80
txt(1017, 1408, 'Cd80', ha='center', fontstyle='italic')
arrow(1090, 1061, 1408)
txt(1307, 1395, '10 kb', ha='center')
canvas.plot([1234, 1388], [1408, 1408], color='#777777', lw=1)
gene(1010, 1614, 1426, [1010, 1063, 1287, 1365, 1417, 1473])
box(1595, 1614, 1426, 5, 'black')
gene(1062, 1480, 1434, [1063, 1287, 1365, 1417, 1473])
box(1473, 1482, 1434, 5, 'black')
gene(1062, 1473, 1442, [1063, 1287, 1365, 1417, 1473])
for ex in [1287, 1365]:
    box(ex - 2, ex + 2, 1430, 22, 'black')
box(1318, 1330, 1455, 7, 'black')
box(1052, 1059, 1467, 7, TRACK_BLUE)
box(1318, 1324, 1467, 7, TRACK_BLUE)
tick50(976, 979, 987, 1486)
tick50(976, 982, 990, 1572)
txt(976, 1658, '0', ha='right')
red(1047, 1066, 1481, 1666)
# Klrg1
txt(1300, 1691, '10 kb', ha='center')
canvas.plot([1228, 1395], [1704, 1704], color='#666666', lw=1)
for tx in [1228, 1395]:
    canvas.plot([tx, tx], [1700, 1708], color='#666666', lw=1)
gene(1035, 1239, 1727, [1048, 1084, 1162, 1186, 1239])
gene(1035, 1239, 1735, [1048, 1084, 1162, 1186, 1239])
box(1035, 1048, 1727, 5, 'black')
box(1035, 1048, 1735, 5, 'black')
arrow(1211, 1241, 1749)
txt(1255, 1754, 'Klrg1', fontstyle='italic')
box(1387, 1396, 1749, 7, 'black')
box(1385, 1396, 1763.5, 7, TRACK_BLUE)
box(1423, 1433, 1763.5, 7, TRACK_BLUE)
tick50(982, 987, 994, 1774)
tick50(982, 987, 994, 1877)
txt(981, 1969, '0', ha='right')
red(1417, 1437, 1790, 1976)
# Tigit
txt(1306, 2010, '20 kb', ha='center')
canvas.plot([1193, 1435], [2026.6, 2026.6], color='#333333', lw=1)
for tx in [1193, 1435]:
    canvas.plot([tx, tx], [2022, 2031], color='#333333', lw=1)
arrow(1193, 1223, 2043)
txt(1232.5, 2047, 'Tigit', fontstyle='italic')
gene(1034, 1216, 2056, [1034, 1160, 1192, 1216], color='#20208a', tick_c='#20208a')
box(1032, 1036, 2056, 10, '#14146e')
box(1190, 1194, 2056, 10, '#14146e')
box(1214, 1230, 2071, 9, 'black')
box(1530, 1540, 2071, 9, 'black')
for b0, b1 in [(1049, 1055), (1106, 1114), (1213, 1230), (1532, 1540), (1579, 1584)]:
    box(b0, b1, 2085, 9, TRACK_BLUE)
tick50(985, 992, 1000, 2097)
tick50(985, 992, 1000, 2201)
txt(985, 2292, '0', ha='right')
for yy in [2096, 2200]:
    for b0, b1 in [(1215, 1221), (1533, 1537)]:
        box(b0, b1, yy, 2, '#e000e0')
red(1043, 1061, 2094, 2295)
red(1101, 1119, 2095, 2296)
red(1572, 1590, 2097, 2298)

fig.savefig('out.png', dpi=100, facecolor='white')
